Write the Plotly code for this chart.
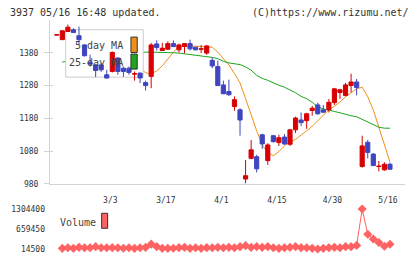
import plotly.graph_objects as go

# ---------------- data ----------------
dates = ["2/14", "2/17", "2/18", "2/19", "2/20", "2/21", "2/25", "2/26", "2/27", "2/28",
         "3/3", "3/4", "3/5", "3/6", "3/7", "3/10", "3/11", "3/12", "3/13", "3/14",
         "3/17", "3/18", "3/19", "3/21", "3/24", "3/25", "3/26", "3/27", "3/28", "3/31",
         "4/1", "4/2", "4/3", "4/4", "4/7", "4/8", "4/9", "4/10", "4/11", "4/14",
         "4/15", "4/16", "4/17", "4/18", "4/21", "4/22", "4/23", "4/24", "4/25", "4/28",
         "4/30", "5/1", "5/2", "5/7", "5/8", "5/9", "5/12", "5/13", "5/14", "5/15",
         "5/16"]

opens = [1434, 1420, 1445, 1450, 1432, 1404, 1350, 1343, 1343, 1313,
         1323, 1364, 1333, 1333, 1315, 1318, 1289, 1308, 1407, 1387,
         1391, 1408, 1389, 1399, 1408, 1397, 1391, 1379, 1357, 1338,
         1282, 1262, 1216, 1206, 995, 1058, 1063, 1130, 1051, 1127,
         1106, 1123, 1101, 1145, 1175, 1173, 1204, 1221, 1206, 1206,
         1228, 1259, 1250, 1280, 1291, 1033, 1107, 1071, 1033, 1023,
         1040]
highs = [1435, 1448, 1466, 1455, 1460, 1406, 1374, 1345, 1349, 1328,
         1384, 1366, 1338, 1338, 1323, 1320, 1295, 1410, 1418, 1410,
         1415, 1418, 1408, 1408, 1420, 1398, 1404, 1404, 1365, 1356,
         1295, 1298, 1247, 1211, 1053, 1114, 1069, 1133, 1104, 1130,
         1130, 1132, 1148, 1185, 1198, 1197, 1218, 1228, 1221, 1239,
         1273, 1270, 1288, 1316, 1300, 1127, 1114, 1074, 1050, 1046,
         1045]
lows = [1434, 1419, 1443, 1440, 1404, 1369, 1338, 1306, 1322, 1301,
        1320, 1313, 1307, 1313, 1295, 1288, 1265, 1272, 1387, 1386,
        1389, 1397, 1381, 1379, 1387, 1388, 1379, 1374, 1333, 1279,
        1254, 1249, 1203, 1127, 982, 1055, 1015, 1087, 1038, 1106,
        1096, 1099, 1096, 1135, 1157, 1148, 1188, 1191, 1196, 1198,
        1221, 1239, 1247, 1259, 1250, 1030, 1058, 1035, 1018, 1020,
        1023]
closes = [1435, 1447, 1458, 1442, 1420, 1371, 1346, 1326, 1328, 1303,
          1381, 1323, 1323, 1320, 1316, 1303, 1280, 1404, 1396, 1394,
          1408, 1399, 1404, 1408, 1392, 1389, 1392, 1401, 1340, 1280,
          1255, 1252, 1237, 1175, 1005, 1084, 1026, 1102, 1099, 1109,
          1121, 1102, 1145, 1181, 1167, 1194, 1211, 1194, 1199, 1229,
          1270, 1267, 1282, 1291, 1274, 1096, 1076, 1036, 1034, 1040,
          1025]

ma5 = [None, 1446, 1442, 1444, 1446, 1440, 1428, 1407, 1381, 1358,
       1335, 1337, 1332, 1332, 1330, 1333, 1319, 1316, 1325, 1340,
       1360, 1382, 1398, 1400, 1401, 1400, 1399, 1398, 1397, 1382,
       1363, 1343, 1317, 1288, 1240, 1188, 1142, 1099, 1075, 1066,
       1079, 1096, 1108, 1116, 1128, 1142, 1156, 1172, 1191, 1206,
       1217, 1230, 1246, 1259, 1270, 1275, 1246, 1206, 1154, 1099,
       1047]
ma25 = [None, 1352, 1354, 1357, 1359, 1361, 1364, 1366, 1368, 1370,
        1372, 1374, 1375, 1377, 1379, 1380, 1382, 1382, 1382, 1382,
        1382, 1380, 1379, 1377, 1375, 1373, 1371, 1369, 1366, 1362,
        1354, 1349, 1346, 1344, 1337, 1327, 1311, 1302, 1296, 1288,
        1281, 1275, 1267, 1258, 1247, 1240, 1229, 1215, 1209, 1204,
        1201, 1197, 1192, 1188, 1185, 1177, 1168, 1159, 1153, 1150,
        1150]
volume = [None, 35800, 56900, 36200, 67500, 57300, 56800, 89600, 57100, 56400,
          57800, 56700, 36400, 57200, 35900, 56600, 68300, 170200, 90100, 36300,
          35700, 36800, 57400, 68100, 36100, 56900, 35600, 57500, 56300, 68400,
          57000, 67900, 57200, 90400, 122300, 68000, 89800, 67600, 90200, 57300,
          36000, 56800, 68200, 89900, 57400, 56500, 36200, 14500, 35800, 57100,
          68500, 56700, 90300, 89700, 130100, 1304400, 490200, 337100, 222400, 105300,
          170000]

tick_labels = ["3/3", "3/17", "4/1", "4/15", "4/30", "5/16"]
price_ticks = [980, 1080, 1180, 1280, 1380]
vol_ticks = [14500, 659450, 1304400]

assert len(dates) == len(opens) == len(highs) == len(lows) == len(closes) \
    == len(ma5) == len(ma25) == len(volume)

# ---------------- geometry ----------------
FIG_W, FIG_H = 420, 259
PL, PR, PT, PB = 50, 405.3, 20.25, 249     # plot area box in px
PRICE_BOTTOM = 184
VOL_TOP = 209
X_RANGE = [-1.22, 62.71]
Y_RANGE = [980, 1480]
VOL_RANGE = [14500, 1304400]

FONT = "DejaVu Sans Mono"
TXT = "#333333"
AXC = "#d4d4d4"
UP, DOWN = "#d80000", "#3f45bf"
ORANGE, GREEN, VOLC = "#f0901a", "#1ea51e", "#ff6262"


def fx(px):
    return (px - PL) / (PR - PL)


def fy(py):
    return (PB - py) / (PB - PT)


def dx(px):
    return X_RANGE[0] + fx(px) * (X_RANGE[1] - X_RANGE[0])


def dy(py):
    return Y_RANGE[1] - (py - PT) / (PRICE_BOTTOM - PT) * (Y_RANGE[1] - Y_RANGE[0])


xs = list(range(len(dates)))

fig = go.Figure()

# moving averages (main subplot)
fig.add_trace(go.Scatter(x=xs, y=ma5, mode="lines", line=dict(color=ORANGE, width=1),
                         xaxis="x", yaxis="y", hoverinfo="skip", showlegend=False))
fig.add_trace(go.Scatter(x=xs, y=ma25, mode="lines", line=dict(color=GREEN, width=1),
                         xaxis="x", yaxis="y", hoverinfo="skip", showlegend=False))
# legend box (hides the lines, sits under the candles)
bx0, bx1, by0, by1 = dx(65.7), dx(143.3), dy(30), dy(77.3)
fig.add_trace(go.Scatter(x=[bx0, bx1, bx1, bx0, bx0], y=[by0, by0, by1, by1, by0],
                         mode="lines", fill="toself", fillcolor="white",
                         line=dict(color="#cccccc", width=1),
                         xaxis="x", yaxis="y", hoverinfo="skip", showlegend=False))
# candles on overlay axis (drawn above)
fig.add_trace(go.Candlestick(x=xs, open=opens, high=highs, low=lows, close=closes,
                             increasing=dict(line=dict(color=UP, width=1), fillcolor=UP),
                             decreasing=dict(line=dict(color=DOWN, width=1), fillcolor=DOWN),
                             whiskerwidth=0, xaxis="x", yaxis="y2",
                             hoverinfo="skip", showlegend=False))
# volume
fig.add_trace(go.Scatter(x=xs, y=volume, mode="lines+markers",
                         line=dict(color=VOLC, width=1),
                         marker=dict(symbol="diamond", size=7, color=VOLC),
                         cliponaxis=False, xaxis="x2", yaxis="y3",
                         hoverinfo="skip", showlegend=False))

tickfont = dict(family=FONT, size=8, color=TXT)

fig.update_layout(
    width=FIG_W, height=FIG_H,
    margin=dict(l=PL, r=FIG_W - PR, t=PT, b=FIG_H - PB, pad=0, autoexpand=False),
    paper_bgcolor="white", plot_bgcolor="white",
    showlegend=False, hovermode=False,
    boxgap=0.25, boxgroupgap=0,
    xaxis=dict(domain=[0, 1], range=X_RANGE, anchor="y",
               showline=True, linecolor=AXC, linewidth=1,
               ticks="", tickvals=[dates.index(t) for t in tick_labels], ticktext=tick_labels,
               tickfont=tickfont, showgrid=False, zeroline=False,
               rangeslider=dict(visible=False), ticklabelstandoff=8, ticklabelshift=-2),
    xaxis3=dict(overlaying="x", range=[0, 11], tickmode="linear", tick0=0, dtick=1,
                ticks="outside", ticklen=4, tickcolor=AXC, showticklabels=False,
                showgrid=False, zeroline=False, showline=False, anchor="y"),
    xaxis4=dict(overlaying="x", range=[0, 11], tickmode="linear", tick0=0, dtick=1,
                ticks="inside", ticklen=3, tickcolor=AXC, showticklabels=False,
                showgrid=False, zeroline=False, showline=False, anchor="y"),
    yaxis=dict(domain=[fy(PRICE_BOTTOM), 1], range=Y_RANGE, anchor="x",
               showline=True, linecolor=AXC, linewidth=1,
               ticks="outside", ticklen=5, tickcolor=AXC, tickvals=price_ticks,
               tickfont=tickfont, showgrid=False, zeroline=False, ticklabelstandoff=4),
    yaxis2=dict(overlaying="y", range=Y_RANGE, side="left", anchor="x",
                ticks="inside", ticklen=3, tickcolor=AXC, tickvals=price_ticks,
                showticklabels=False, showgrid=False, zeroline=False, showline=False),
    xaxis2=dict(domain=[0, 1], range=X_RANGE, anchor="y3", visible=False),
    yaxis3=dict(domain=[0, fy(VOL_TOP)], range=VOL_RANGE, anchor="x2",
                tickvals=vol_ticks, ticktext=[str(v) for v in vol_ticks],
                ticks="", showline=False, showgrid=False, zeroline=False,
                tickfont=tickfont, ticklabelstandoff=4),
)

ann = []
hdr = dict(family=FONT, size=10, color=TXT)
ann.append(dict(text="3937 05/16 16:48 updated.", x=fx(8), y=fy(13), xref="paper", yref="paper",
                xanchor="left", yanchor="middle", showarrow=False, font=hdr))
ann.append(dict(text="(C)https://www.rizumu.net/", x=fx(411), y=fy(13), xref="paper", yref="paper",
                xanchor="right", yanchor="middle", showarrow=False, font=hdr))
leg = dict(family=FONT, size=10, color="#444444")
ann.append(dict(text="5-day MA", x=fx(125), y=fy(46), xref="paper", yref="paper",
                xanchor="right", yanchor="middle", showarrow=False, font=leg))
ann.append(dict(text="25-day MA", x=fx(125), y=fy(62.7), xref="paper", yref="paper",
                xanchor="right", yanchor="middle", showarrow=False, font=leg))
ann.append(dict(text="Volume", x=fx(58.5), y=fy(222.3), xref="paper", yref="paper",
                xanchor="left", yanchor="middle", showarrow=False, font=leg))
fig.update_layout(annotations=ann)

shapes = []
for (x0, y0, x1, y1, col) in [(131, 37.3, 137.3, 52.7, ORANGE),
                              (131, 54.3, 137.3, 69.3, GREEN),
                              (101.7, 213.3, 107.7, 228.3, VOLC)]:
    shapes.append(dict(type="rect", xref="paper", yref="paper",
                       x0=fx(x0), x1=fx(x1), y0=fy(y1), y1=fy(y0),
                       fillcolor=col, line=dict(color="#333333", width=1), layer="above"))
fig.update_layout(shapes=shapes)

fig.write_html("out.html",
               config={"displayModeBar": False, "staticPlot": True},
               post_script="document.body.style.margin='0';document.body.style.overflow='hidden';")
